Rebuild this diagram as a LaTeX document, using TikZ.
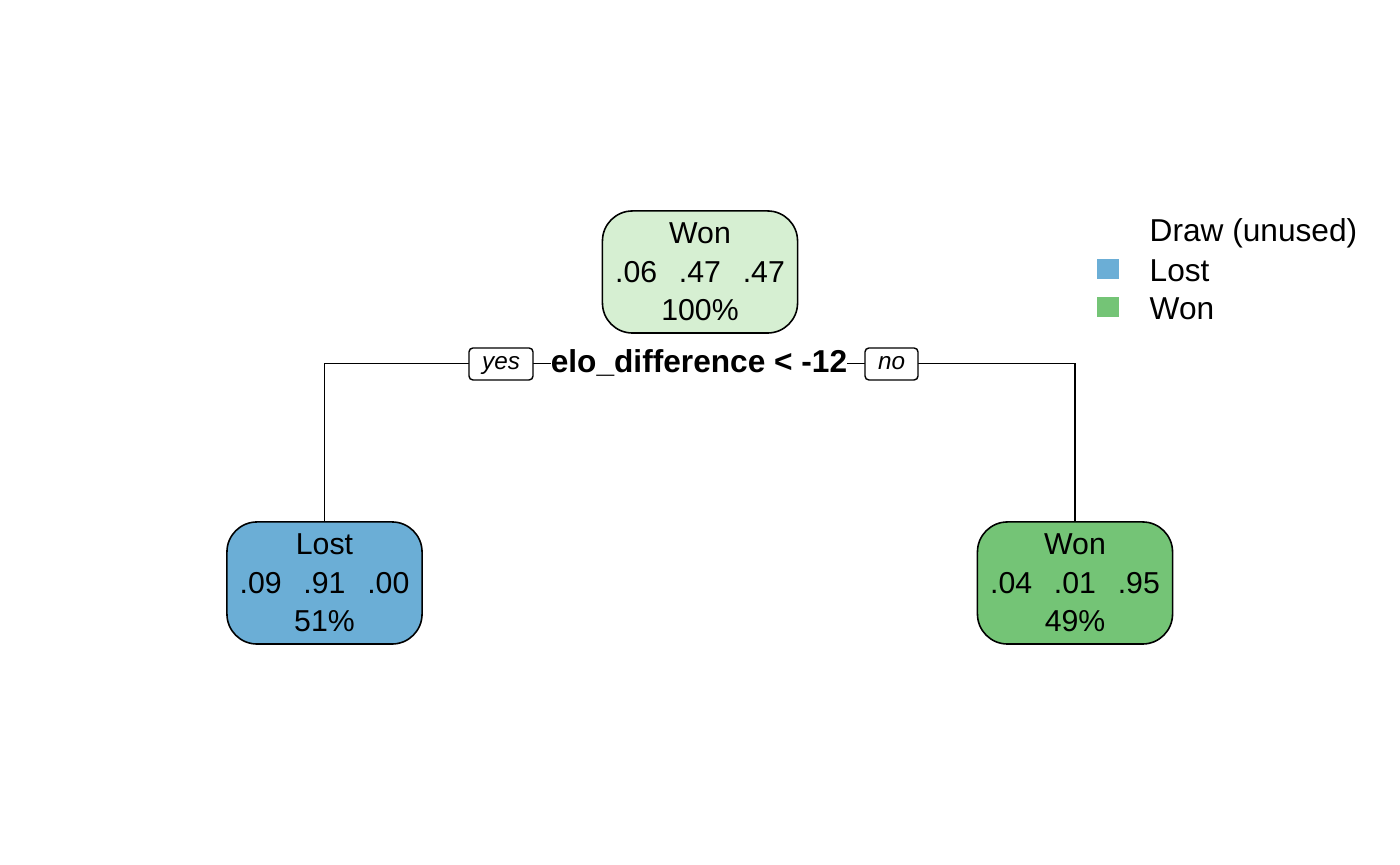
\documentclass[tikz,border=0pt]{standalone}
\usepackage{fontspec}
\setmainfont{Liberation Sans}
\usepackage{tikz}

\definecolor{lostblue}{HTML}{6BAED6}
\definecolor{wongreen}{HTML}{74C476}
\definecolor{wonlight}{HTML}{D6EFD2}

\tikzset{
	leaf/.style={draw, line width=0.45pt, rounded corners=0.3cm, minimum width=1.95cm,
		minimum height=1.22cm, align=center, font=\fontsize{8.6}{10.9}\selectfont, inner sep=0pt},
	tag/.style={draw, fill=white, line width=0.4pt, rounded corners=0.04cm, minimum height=0.32cm,
		inner sep=0pt, text height=1ex, text depth=0.21em, font=\fontsize{6.9}{8}\selectfont\itshape},
	legtext/.style={anchor=west, inner sep=0pt, font=\fontsize{9}{10}\selectfont},
	edge/.style={line width=0.45pt}
}
\newcommand{\gap}{\hspace{0.72em}}

\begin{document}
\begin{tikzpicture}[x=0.01cm, y=-0.01cm]
	\useasboundingbox (0,0) rectangle (1400,865);
	
	\node[leaf, fill=wonlight] (root) at (700,272) {Won\\.06\gap.47\gap.47\\100\%};
	\node[leaf, fill=lostblue] (lost) at (324.5,583) {Lost\\.09\gap.91\gap.00\\51\%};
	\node[leaf, fill=wongreen] (won) at (1075,583) {Won\\.04\gap.01\gap.95\\49\%};
	
	\coordinate (bar) at (700,363.5);
	\draw[edge] (lost.north) |- (bar) -| (won.north);
	
	\node[fill=white, font=\fontsize{9}{10}\selectfont\bfseries, inner xsep=0pt, inner ysep=1pt] (split) at (699,363) {elo\_difference < -12};
	\node[tag, minimum width=0.64cm] (yesbox) at (501,364) {yes};
	\node[tag, minimum width=0.53cm] (nobox) at (891.5,364) {no};
	
	% legend
	\node[legtext] (drawtxt) at (1149,233) {Draw (unused)};
	\node[legtext] (losttxt) at (1149,271) {Lost};
	\node[legtext] (wontxt) at (1149,309) {Won};
	\fill[lostblue] (1097,259) rectangle (1119,279);
	\fill[wongreen] (1097,297) rectangle (1119,317);
	
\end{tikzpicture}
\end{document}
